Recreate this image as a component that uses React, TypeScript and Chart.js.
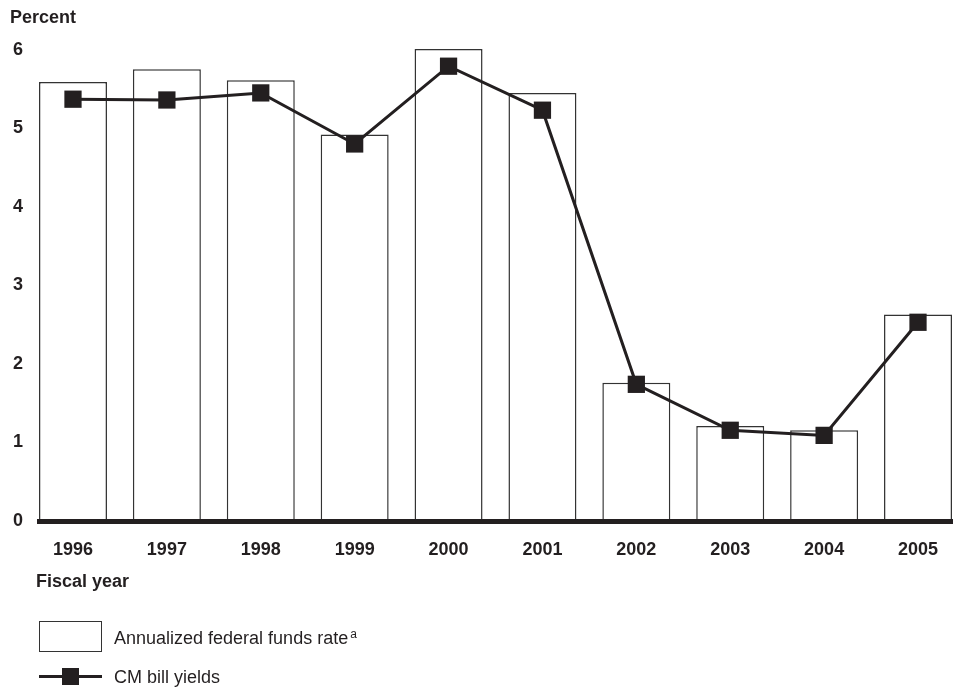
import React, { useEffect, useRef } from "react";
import { Chart, registerables } from "chart.js";

Chart.register(...registerables);

const years = ["1996", "1997", "1998", "1999", "2000", "2001", "2002", "2003", "2004", "2005"];
const fedFundsRate = [5.59, 5.75, 5.61, 4.92, 6.01, 5.45, 1.76, 1.21, 1.155, 2.63];
const cmBillYields = [5.37, 5.36, 5.45, 4.8, 5.79, 5.23, 1.74, 1.155, 1.09, 2.53];
const yTicks = [0, 1, 2, 3, 4, 5, 6];

const INK = "#231f20";
const FONT = "'Liberation Sans', Arial, Helvetica, sans-serif";

export default function App() {
  const canvasRef = useRef<HTMLCanvasElement | null>(null);

  useEffect(() => {
    if (!canvasRef.current) return;
    const chart = new Chart(canvasRef.current, {
      type: "bar",
      data: {
        datasets: [
          {
            type: "line",
            label: "CM bill yields",
            data: cmBillYields.map((v, i) => ({ x: i, y: v })),
            borderColor: INK,
            borderWidth: 3,
            backgroundColor: INK,
            pointStyle: "rect",
            pointRadius: 12.2,
            pointBorderWidth: 0,
            pointBackgroundColor: INK,
            tension: 0,
            order: 0,
          } as any,
          {
            type: "bar",
            label: "Annualized federal funds rate",
            data: fedFundsRate.map((v, i) => ({ x: i, y: v })),
            backgroundColor: "#ffffff",
            borderColor: "#333333",
            borderWidth: 1.5,
            borderSkipped: "start",
            categoryPercentage: 1,
            barPercentage: 0.724,
            order: 1,
          } as any,
        ],
      },
      options: {
        animation: false,
        responsive: false,
        maintainAspectRatio: false,
        layout: { autoPadding: false, padding: { top: 34, right: 7, bottom: 0, left: 0 } },
        plugins: {
          legend: { display: false },
          title: { display: false },
          tooltip: { enabled: false },
        },
        scales: {
          x: {
            type: "linear",
            offset: false,
            min: -0.362,
            max: 9.362,
            z: 1,
            grid: { display: false, drawTicks: false },
            border: { display: true, width: 5, color: INK, z: 1 },
            afterBuildTicks: (axis: any) => {
              axis.ticks = years.map((_, i) => ({ value: i }));
            },
            afterFit: (axis: any) => {
              axis.height = 688 - 521;
              axis.paddingLeft = 0;
              axis.paddingRight = 0;
            },
            ticks: {
              autoSkip: false,
              maxRotation: 0,
              padding: 18,
              color: INK,
              font: { family: FONT, size: 18, weight: "bold" },
              callback: (value: any) => years[Math.round(Number(value))] ?? "",
            },
          },
          y: {
            type: "linear",
            min: 0,
            max: 6.2,
            grid: { display: false, drawTicks: false },
            border: { display: false },
            afterBuildTicks: (axis: any) => {
              axis.ticks = yTicks.map((v) => ({ value: v }));
            },
            afterFit: (axis: any) => {
              axis.width = 39;
              axis.paddingTop = 0;
              axis.paddingBottom = 0;
            },
            ticks: {
              padding: 16,
              color: INK,
              font: { family: FONT, size: 18, weight: "bold" },
            },
          },
        },
      },
    });
    return () => chart.destroy();
  }, []);

  const textBase: React.CSSProperties = {
    position: "absolute",
    fontFamily: FONT,
    fontSize: 18,
    lineHeight: "18px",
    color: INK,
    whiteSpace: "nowrap",
    margin: 0,
  };

  return (
    <div
      style={{
        position: "fixed",
        left: 0,
        top: 0,
        width: 959,
        height: 688,
        background: "#ffffff",
        overflow: "hidden",
      }}
    >
      <canvas ref={canvasRef} width={959} height={688} style={{ position: "absolute", left: 0, top: 0 }} />
      <div style={{ ...textBase, left: 10, top: 8, fontWeight: "bold" }}>Percent</div>
      <div style={{ ...textBase, left: 36, top: 572, fontWeight: "bold" }}>Fiscal year</div>
      <div
        style={{
          position: "absolute",
          left: 39,
          top: 621,
          width: 63,
          height: 31,
          boxSizing: "border-box",
          border: "1.5px solid #333333",
          background: "#fff",
        }}
      />
      <div style={{ ...textBase, left: 114, top: 629 }}>
        Annualized federal funds rate
        <span style={{ fontSize: 12, position: "relative", top: -6, marginLeft: 2 }}>a</span>
      </div>
      <div
        style={{
          position: "absolute",
          left: 39,
          top: 675,
          width: 63,
          height: 3,
          background: INK,
        }}
      />
      <div
        style={{
          position: "absolute",
          left: 62,
          top: 668,
          width: 17,
          height: 17,
          background: INK,
        }}
      />
      <div style={{ ...textBase, left: 114, top: 668 }}>CM bill yields</div>
    </div>
  );
}
